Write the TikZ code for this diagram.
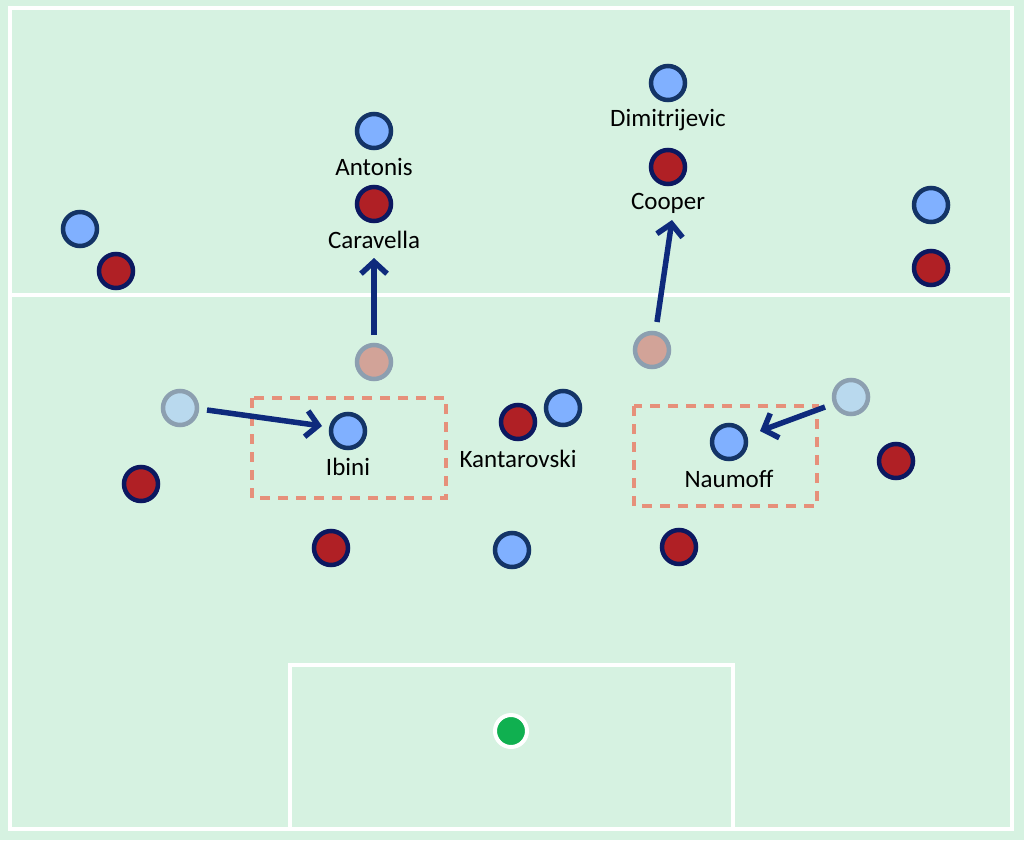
\documentclass[tikz,border=0pt]{standalone}
\usepackage{fontspec}
\setmainfont{Carlito}
\usetikzlibrary{arrows.meta}
\definecolor{pitch}{HTML}{D6F2E1}
\definecolor{bluefill}{HTML}{80B0FF}
\definecolor{blueedge}{HTML}{143466}
\definecolor{redfill}{HTML}{B02025}
\definecolor{rededge}{HTML}{0C1860}
\definecolor{fredfill}{HTML}{D2A398}
\definecolor{fbluefill}{HTML}{B9D9EE}
\definecolor{fedge}{HTML}{8C9FB0}
\definecolor{arrowc}{HTML}{0E2A7C}
\definecolor{dashc}{HTML}{E6907A}
\definecolor{ballc}{HTML}{10B050}
\tikzset{
  player/.style={circle, line width=4.5pt, minimum size=34pt, inner sep=0pt},
  bp/.style={player, fill=bluefill, draw=blueedge},
  rp/.style={player, fill=redfill, draw=rededge},
  frp/.style={player, fill=fredfill, draw=fedge},
  fbp/.style={player, fill=fbluefill, draw=fedge},
  lbl/.style={font=\fontsize{25}{28}\selectfont, text=black, inner sep=0pt},
  run/.style={draw=arrowc, line width=5.5pt, -{Straight Barb[length=12pt, width=26pt, line width=5.5pt]}},
  zone/.style={draw=dashc, line width=3.5pt, dash pattern=on 10pt off 8pt},
  pline/.style={draw=white, line width=4pt}
}
\begin{document}
\begin{tikzpicture}[x=1pt, y=-1pt]
\useasboundingbox (0,0) rectangle (1024,840);
\fill[pitch] (0,0) rectangle (1024,840);
% pitch lines
\draw[pline] (10,8) rectangle (1012,829);
\draw[pline] (10,295) -- (1012,295);
\draw[pline] (290,829) -- (290,665) -- (733,665) -- (733,829);
% zones
\draw[zone] (252,398) rectangle (446,498);
\draw[zone] (634,406) rectangle (817,506);
% players
\node[bp] (b1) at (80,229) {};
\node[rp] (r1) at (116,271) {};
\node[bp] (antonis) at (374,131) {};
\node[rp] (caravella) at (374,204) {};
\node[bp] (dimi) at (668,83) {};
\node[rp] (cooper) at (668,167) {};
\node[bp] (b2) at (931,205) {};
\node[rp] (r2) at (931,268) {};
\node[frp] (fr1) at (374,362) {};
\node[frp] (fr2) at (652,350) {};
\node[fbp] (fb1) at (180,408) {};
\node[fbp] (fb2) at (851,397) {};
\node[bp] (ibini) at (348,431) {};
\node[bp] (b3) at (563,408) {};
\node[rp] (kanta) at (518,422) {};
\node[bp] (naumoff) at (729,442) {};
\node[rp] (r3) at (141,484) {};
\node[rp] (r4) at (896,461) {};
\node[rp] (r5) at (331,548) {};
\node[bp] (b4) at (512,550) {};
\node[rp] (r6) at (679,547) {};
\node[circle, fill=ballc, draw=white, line width=4pt, minimum size=32pt, inner sep=0pt] (ball) at (511,731) {};
% labels
\node[lbl] (lantonis) at (374,167) {Antonis};
\node[lbl] (lcaravella) at (374,240) {Caravella};
\node[lbl] (ldimi) at (668,120) {Dimitrijevic};
\node[lbl] (lcooper) at (668,203) {Cooper};
\node[lbl] (libini) at (348,467) {Ibini};
\node[lbl] (lkanta) at (518,459) {Kantarovski};
\node[lbl] (lnaumoff) at (729,479) {Naumoff};
% runs
\coordinate (s1) at (374,335);
\coordinate (t1) at (374,258);
\coordinate (s2) at (657,322);
\coordinate (t2) at (672,220);
\coordinate (s3) at (207,410);
\coordinate (t3) at (322,426);
\coordinate (s4) at (825,407);
\coordinate (t4) at (760,431);
\draw[run] (s1) -- (t1);
\draw[run] (s2) -- (t2);
\draw[run] (s3) -- (t3);
\draw[run] (s4) -- (t4);
\end{tikzpicture}
\end{document}
